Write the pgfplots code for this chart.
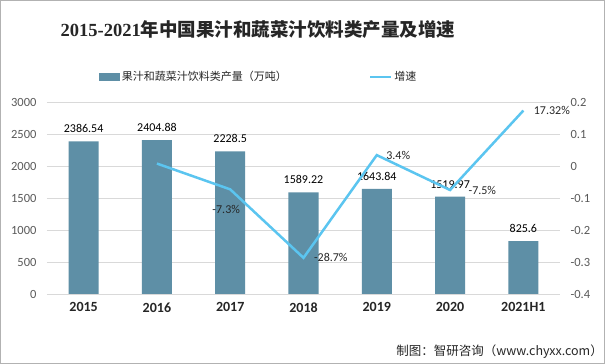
\documentclass[border=0pt]{standalone}
\usepackage{pgfplots}
\pgfplotsset{compat=1.18}
\usepackage{fontspec}
\setmainfont{Carlito}
\newfontfamily\cjk{Noto Sans CJK SC}
\newfontfamily\tnr{Liberation Serif}
\definecolor{barc}{HTML}{5E8FA6}
\definecolor{linec}{HTML}{5BC5F0}
\definecolor{tickc}{HTML}{595959}
\begin{document}
\begin{tikzpicture}[x=1pt,y=1pt]
\draw[draw=gray!60, line width=1pt, fill=white] (0.5,0.5) rectangle (604.5,363.5);
\node[font=\tnr\bfseries\fontsize{18.5}{20}\selectfont, text=black!85] at (258,334) {2015-2021{\cjk\bfseries 年中国果汁和蔬菜汁饮料类产量及增速}};
\node[anchor=east, inner sep=0pt, font=\cjk\fontsize{12.5}{13}\selectfont, text=black!85] at (603,12) {制图：智研咨询（www.chyxx.com）};
\begin{axis}[at={(47pt,70pt)}, anchor=south west, width=513pt, height=192pt, scale only axis,
  xmin=-0.5, xmax=6.5, ymin=0, ymax=3000, ytick={0,500,...,3000},
  xtick={0,...,6}, xticklabels={2015,2016,2017,2018,2019,2020,2021H1},
  axis line style={draw=none}, major tick length=0pt,
  ymajorgrids, grid style={color=gray!30, line width=0.8pt},
  /pgf/number format/assume math mode=true,
  /pgf/number format/1000 sep={},
  yticklabel style={font=\fontsize{12.5}{12.5}\selectfont, text=tickc, xshift=-7pt},
  xticklabel style={font=\bfseries\fontsize{14}{14}\selectfont, text=black!85, yshift=-5pt},
  clip=false]
\addplot[ybar, bar width=30pt, fill=barc, draw=none,
  nodes near coords, point meta=explicit symbolic,
  every node near coord/.append style={font=\fontsize{12}{12}\selectfont, text=black, anchor=south, yshift=5pt}]
  coordinates {(0,2386.54)[2386.54] (1,2404.88)[2404.88] (2,2228.5)[2228.5] (3,1589.22)[1589.22] (4,1643.84)[1643.84] (5,1519.97)[1519.97] (6,825.6)[825.6]};
\end{axis}
\begin{axis}[at={(47pt,70pt)}, anchor=south west, width=513pt, height=192pt, scale only axis,
  xmin=-0.5, xmax=6.5, ymin=-0.4, ymax=0.2,
  ytick={-0.4,-0.3,-0.2,-0.1,0,0.1,0.2},
  yticklabels={-0.4,-0.3,-0.2,-0.1,0,0.1,0.2},
  axis y line*=right, axis x line=none, axis line style={draw=none}, major tick length=0pt,
  yticklabel style={font=\fontsize{12.5}{12.5}\selectfont, text=tickc, xshift=7pt},
  clip=false,
  legend columns=2,
  legend style={draw=none, fill=none, at={(0.413,1.13)}, anchor=center,
    font=\cjk\fontsize{11}{11}\selectfont, text=black!85,
    /tikz/every even column/.append style={column sep=80pt}},
  ]
\addlegendimage{legend image code/.code={\fill[barc] (0pt,-3.5pt) rectangle (20pt,3.5pt);}}
\addlegendentry{果汁和蔬菜汁饮料类产量（万吨）}
\addplot[linec, line width=2.5pt, mark=none,
  legend image code/.code={\draw[linec, line width=2.5pt] (0pt,0pt) -- (21pt,0pt);}]
  coordinates {(1,0.0077) (2,-0.073) (3,-0.287) (4,0.034) (5,-0.075) (6,0.1732)};
\addlegendentry{增速}
\addplot[draw=none, mark=none, forget plot, nodes near coords, point meta=explicit symbolic,
  every node near coord/.append style={font=\fontsize{12}{12}\selectfont, text=black!85, anchor=north, yshift=-12pt, xshift=-4pt}]
  coordinates {(2,-0.073)[-7.3\%]};
\addplot[draw=none, mark=none, forget plot, nodes near coords, point meta=explicit symbolic,
  every node near coord/.append style={font=\fontsize{12}{12}\selectfont, text=black!85, anchor=west, xshift=7pt, yshift=0pt}]
  coordinates {(3,-0.287)[-28.7\%] (6,0.1732)[17.32\%]};
\addplot[draw=none, mark=none, forget plot, nodes near coords, point meta=explicit symbolic,
  every node near coord/.append style={font=\fontsize{12}{12}\selectfont, text=black!85, anchor=west, xshift=15pt, yshift=0pt}]
  coordinates {(5,-0.075)[-7.5\%]};
\addplot[draw=none, mark=none, forget plot, nodes near coords, point meta=explicit symbolic,
  every node near coord/.append style={font=\fontsize{12}{12}\selectfont, text=black!85, anchor=west, xshift=6pt, yshift=0pt}]
  coordinates {(4,0.034)[3.4\%]};
\end{axis}
\end{tikzpicture}
\end{document}
